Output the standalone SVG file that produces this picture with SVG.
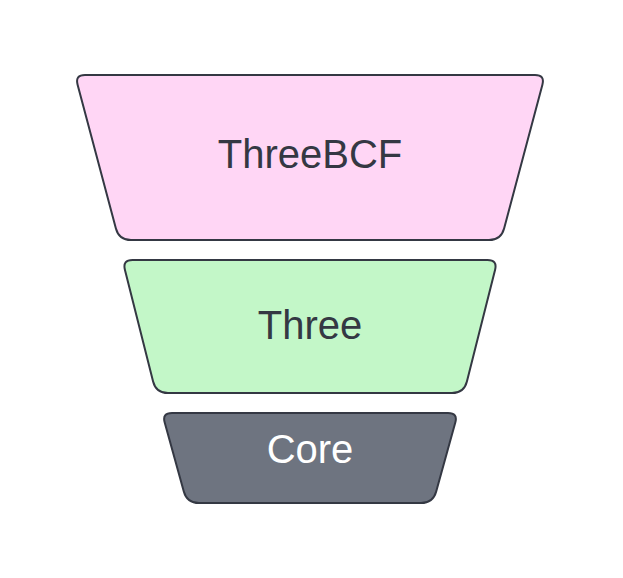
<svg xmlns="http://www.w3.org/2000/svg" width="623" height="578" viewBox="0 0 623 578">
<style>
.s{stroke:#343843;stroke-width:2;stroke-linejoin:round}
.t{font-family:"Liberation Sans",Arial,sans-serif;font-size:40px;text-anchor:middle}
</style>
<rect width="623" height="578" fill="#ffffff"/>
<g id="threebcf">
<path class="s" fill="#FFD6F5" d="M 85,75 L 535,75 Q 545,75 542.4,84.7 L 504.1,228.4 Q 501,240 489,240 L 131,240 Q 119,240 115.9,228.4 L 77.6,84.7 Q 75,75 85,75 Z"/>
<text class="t" x="310" y="168" fill="#343843">ThreeBCF</text>
</g>
<g id="three">
<path class="s" fill="#C3F7C8" d="M 132.5,260 L 487.5,260 Q 497.5,260 495.1,269.7 L 466.9,381.4 Q 464,393 452,393 L 168,393 Q 156,393 153.1,381.4 L 124.9,269.7 Q 122.5,260 132.5,260 Z"/>
<text class="t" x="310" y="339" fill="#343843">Three</text>
</g>
<g id="core">
<path class="s" fill="#6E7480" d="M 172,413 L 448,413 Q 458,413 455.3,422.6 L 436.2,491.4 Q 433,503 421,503 L 199,503 Q 187,503 183.8,491.4 L 164.7,422.6 Q 162,413 172,413 Z"/>
<text class="t" x="310" y="463" fill="#ffffff">Core</text>
</g>
<g id="connectors"></g>
</svg>
